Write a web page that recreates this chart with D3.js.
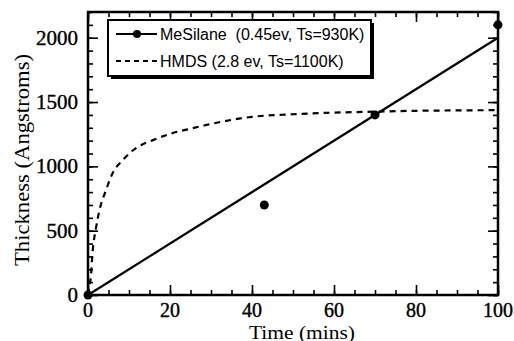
<!DOCTYPE html>
<html>
<head>
<meta charset="utf-8">
<script src="https://cdn.jsdelivr.net/npm/d3@7"></script>
<style>
  body { margin: 0; background: #fff; }
  svg { display: block; }
</style>
</head>
<body>
<svg width="514" height="341"></svg>
<script>
// MeSilane measured points
const meTime = [0, 43, 70, 100];
const meThick = [0, 700, 1400, 2100];
// MeSilane fit line
const fitTime = [0, 100];
const fitThick = [0, 2000];
// HMDS curve
const hmTime = [0, 0.4, 0.7, 1.1, 2, 2.8, 4.4, 6, 8.5, 11.7, 15.8, 20.7, 25.5, 30, 40, 50, 60, 70, 80, 90, 100];
const hmThick = [0, 80, 142, 325, 530, 660, 816, 947, 1049, 1142, 1204, 1259, 1297, 1330, 1385, 1405, 1418, 1425, 1432, 1435, 1437];

const xTicks = [0, 20, 40, 60, 80, 100];
const yTicks = [0, 500, 1000, 1500, 2000];
const legendLabels = ["MeSilane  (0.45ev, Ts=930K)", "HMDS (2.8 ev, Ts=1100K)"];

function run() {
  const svg = d3.select("svg");
  const left = 88, right = 498, top = 12, bottom = 295;

  const x = d3.scaleLinear().domain([0, 100]).range([left, right]);
  const y = d3.scaleLinear().domain([0, 2200]).range([bottom, top]);

  const serif = "'Liberation Serif', 'Times New Roman', serif";
  const sans = "'Liberation Sans', Arial, sans-serif";

  // inward ticks on all four sides
  const minorX = d3.range(0, 101, 5);
  const minorY = d3.range(0, 2201, 100);
  const g = svg.append("g");
  g.append("g").attr("transform", `translate(0,${bottom})`)
    .call(d3.axisTop(x).tickValues(minorX).tickSize(5).tickFormat(""));
  g.append("g").attr("transform", `translate(0,${bottom})`)
    .call(d3.axisTop(x).tickValues(xTicks).tickSize(10).tickFormat(""));
  g.append("g").attr("transform", `translate(0,${top})`)
    .call(d3.axisBottom(x).tickValues(minorX).tickSize(5).tickFormat(""));
  g.append("g").attr("transform", `translate(0,${top})`)
    .call(d3.axisBottom(x).tickValues(xTicks).tickSize(10).tickFormat(""));
  g.append("g").attr("transform", `translate(${left},0)`)
    .call(d3.axisRight(y).tickValues(minorY).tickSize(5).tickFormat(""));
  g.append("g").attr("transform", `translate(${left},0)`)
    .call(d3.axisRight(y).tickValues(yTicks).tickSize(10).tickFormat(""));
  g.append("g").attr("transform", `translate(${right},0)`)
    .call(d3.axisLeft(y).tickValues(minorY).tickSize(5).tickFormat(""));
  g.append("g").attr("transform", `translate(${right},0)`)
    .call(d3.axisLeft(y).tickValues(yTicks).tickSize(10).tickFormat(""));
  g.selectAll(".domain").remove();
  g.selectAll("line").attr("stroke", "#000").attr("stroke-width", 1.6);

  svg.append("rect")
    .attr("x", left).attr("y", top)
    .attr("width", right - left).attr("height", bottom - top)
    .attr("fill", "none").attr("stroke", "#000").attr("stroke-width", 2.5);

  // tick labels
  svg.append("g").selectAll("text").data(xTicks).join("text")
    .attr("x", d => x(d)).attr("y", bottom + 22)
    .attr("text-anchor", "middle")
    .attr("font-family", serif).attr("font-size", 20)
    .attr("stroke", "#000").attr("stroke-width", 0.4)
    .text(d => d);
  svg.append("g").selectAll("text").data(yTicks).join("text")
    .attr("x", left - 10).attr("y", d => y(d) + 7)
    .attr("text-anchor", "end")
    .attr("font-family", serif).attr("font-size", 21)
    .attr("stroke", "#000").attr("stroke-width", 0.4)
    .text(d => d);

  svg.append("text")
    .attr("x", 302).attr("y", 338.5)
    .attr("text-anchor", "middle")
    .attr("font-family", serif).attr("font-size", 19)
    .attr("textLength", 106).attr("lengthAdjust", "spacingAndGlyphs")
    .text("Time (mins)");
  svg.append("text")
    .attr("transform", "translate(29,160) rotate(-90)")
    .attr("text-anchor", "middle")
    .attr("font-family", serif).attr("font-size", 22)
    .attr("textLength", 212).attr("lengthAdjust", "spacingAndGlyphs")
    .text("Thickness (Angstroms)");

  // HMDS dashed curve
  const line = d3.line().x(d => x(d[0])).y(d => y(d[1])).curve(d3.curveMonotoneX);
  svg.append("path")
    .datum(d3.zip(hmTime, hmThick))
    .attr("d", line)
    .attr("fill", "none").attr("stroke", "#000")
    .attr("stroke-width", 2.2).attr("stroke-dasharray", "6,5");

  // MeSilane fit
  svg.append("path")
    .datum(d3.zip(fitTime, fitThick))
    .attr("d", d3.line().x(d => x(d[0])).y(d => y(d[1])))
    .attr("fill", "none").attr("stroke", "#000").attr("stroke-width", 2.2);

  svg.append("g").selectAll("circle").data(d3.zip(meTime, meThick)).join("circle")
    .attr("cx", d => x(d[0])).attr("cy", d => y(d[1])).attr("r", 4.5)
    .attr("fill", "#000");

  // legend
  const lg = svg.append("g");
  lg.append("rect").attr("x", 111).attr("y", 23).attr("width", 263).attr("height", 56).attr("fill", "#000");
  lg.append("rect").attr("x", 108).attr("y", 20).attr("width", 263).attr("height", 56)
    .attr("fill", "#fff").attr("stroke", "#000").attr("stroke-width", 2);
  const rows = [34, 61];
  lg.append("line").attr("x1", 116).attr("x2", 157).attr("y1", rows[0]).attr("y2", rows[0])
    .attr("stroke", "#000").attr("stroke-width", 2);
  lg.append("circle").attr("cx", 137).attr("cy", rows[0]).attr("r", 4).attr("fill", "#000");
  lg.append("line").attr("x1", 116).attr("x2", 157).attr("y1", rows[1]).attr("y2", rows[1])
    .attr("stroke", "#000").attr("stroke-width", 2).attr("stroke-dasharray", "5,4");
  lg.selectAll("text.lab").data(legendLabels).join("text")
    .attr("class", "lab")
    .attr("x", 160).attr("y", (d, i) => rows[i] + 6)
    .attr("font-family", sans).attr("font-size", 16)
    .attr("xml:space", "preserve")
    .style("white-space", "pre")
    .text(d => d);
}

run();
</script>
</body>
</html>
